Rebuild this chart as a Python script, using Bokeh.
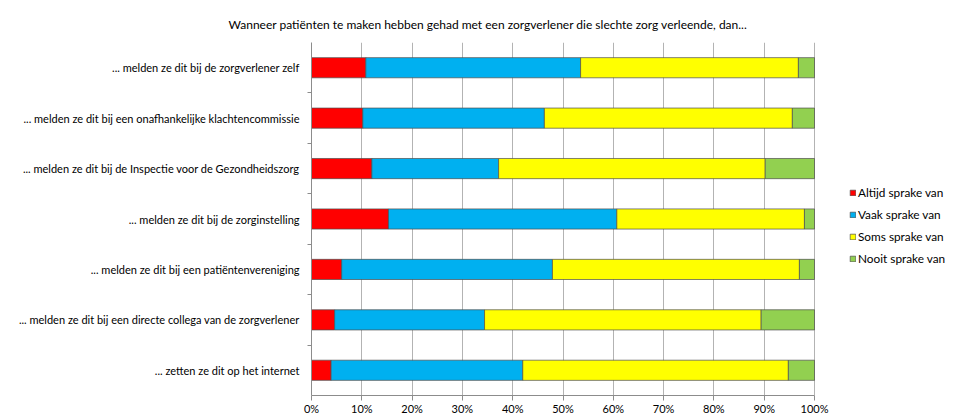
from bokeh.plotting import figure
from bokeh.models import Range1d, FixedTicker, Legend, LegendItem, Title
from bokeh.embed import file_html
from bokeh.resources import INLINE

title_text = "Wanneer patiënten te maken hebben gehad met een zorgverlener die slechte zorg verleende, dan..."

categories = [
    "... melden ze dit bij de zorgverlener zelf",
    "... melden ze dit bij een onafhankelijke klachtencommissie",
    "... melden ze dit bij de Inspectie voor de Gezondheidszorg",
    "... melden ze dit bij de zorginstelling",
    "... melden ze dit bij een patiëntenvereniging",
    "... melden ze dit bij een directe collega van de zorgverlener",
    "... zetten ze dit op het internet",
]

series_names = ["Altijd sprake van", "Vaak sprake van", "Soms sprake van", "Nooit sprake van"]
altijd = [10.8, 10.2, 12.0, 15.3, 6.0, 4.6, 3.9]
vaak = [42.7, 36.1, 25.2, 45.4, 41.9, 29.8, 38.1]
soms = [43.3, 49.3, 53.0, 37.3, 49.1, 55.0, 52.8]
nooit = [3.2, 4.4, 9.8, 2.0, 3.0, 10.6, 5.2]

x_ticks = [0, 10, 20, 30, 40, 50, 60, 70, 80, 90, 100]
x_tick_labels = {t: f"{t}%" for t in x_ticks}

colors = ["#FF0000", "#00B0F0", "#FFFF00", "#92D050"]
FONT = "Lato"

n = len(categories)
ypos = list(range(n))

# frame spans 311..954 px; 0..100 % occupies 311..814 px, the rest holds the legend
W, LEFT = 954, 311
bar_px = 503
x_end = 100 * (W - LEFT) / bar_px

p = figure(width=W, height=417, output_backend="svg", toolbar_location=None,
           x_range=Range1d(0, x_end), y_range=Range1d(n - 0.5, -0.5),
           min_border_left=LEFT, min_border_right=0, min_border_top=42, min_border_bottom=20)
p.outline_line_color = None
p.background_fill_color = "white"

data = dict(y=ypos, altijd=altijd, vaak=vaak, soms=soms, nooit=nooit)
renderers = p.hbar_stack(["altijd", "vaak", "soms", "nooit"], y="y", height=0.4,
                         color=colors, line_color="#4d4d4d", line_width=0.7,
                         source=data)

# axes
p.xaxis.ticker = FixedTicker(ticks=x_ticks)
p.xaxis.bounds = (0, 100)
p.xaxis.major_label_overrides = x_tick_labels
p.xaxis.major_tick_in = 0
p.xaxis.major_tick_out = 5
p.xaxis.minor_tick_line_color = None
p.xaxis.axis_line_color = "#8c8c8c"
p.xaxis.major_tick_line_color = "#8c8c8c"
p.xaxis.major_label_standoff = 1
p.xaxis.major_label_text_font = FONT
p.xaxis.major_label_text_font_size = "11px"
p.xaxis.major_label_text_color = "black"

p.yaxis.ticker = FixedTicker(ticks=ypos, minor_ticks=[i + 0.5 for i in range(n - 1)])
p.yaxis.major_label_overrides = {i: c for i, c in enumerate(categories)}
p.yaxis.major_tick_in = 0
p.yaxis.major_tick_out = 0
p.yaxis.minor_tick_in = 0
p.yaxis.minor_tick_out = 4
p.yaxis.minor_tick_line_color = "#8c8c8c"
p.yaxis.axis_line_color = "#8c8c8c"
p.yaxis.major_label_standoff = 8
p.yaxis.major_label_text_font = FONT
p.yaxis.major_label_text_font_size = "11px"
p.yaxis.major_label_text_color = "black"

p.xgrid.grid_line_color = "#b3b3b3"
p.xgrid.grid_line_width = 1
p.ygrid.grid_line_color = None

# title
t = Title(text=title_text, align="left", offset=-83, text_font=FONT,
          text_font_size="12px", text_font_style="normal", text_color="black",
          standoff=21)
p.add_layout(t, "above")

legend = Legend(items=[LegendItem(label=nm, renderers=[r]) for nm, r in zip(series_names, renderers)],
                location=(538, 129), orientation="vertical",
                glyph_width=7, glyph_height=7, label_height=16, label_standoff=2,
                spacing=6, padding=0, margin=0, border_line_color=None,
                background_fill_alpha=0, label_text_font=FONT,
                label_text_font_size="11.8px", label_text_color="black")
p.add_layout(legend, "center")

open("out.html", "w").write(file_html(p, INLINE))
